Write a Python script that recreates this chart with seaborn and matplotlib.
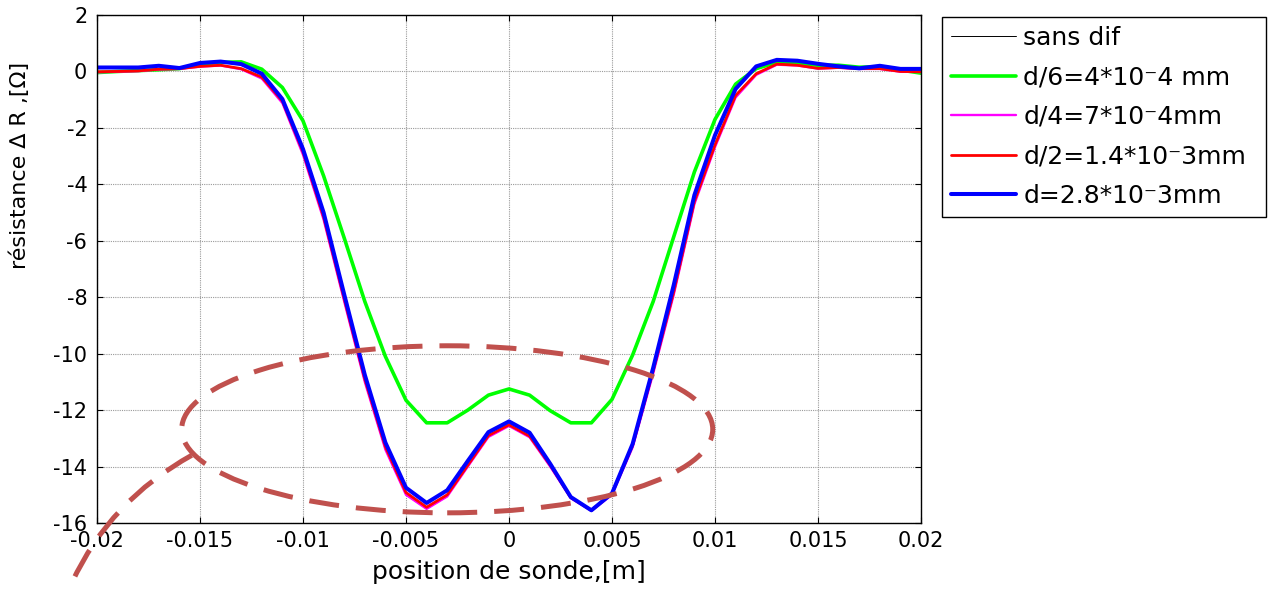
import numpy as np
import pandas as pd
import matplotlib
matplotlib.use("Agg")
import matplotlib.pyplot as plt
from matplotlib.patches import Ellipse, PathPatch
from matplotlib.path import Path
import seaborn as sns

# probe position along the scan [m]
position = [-0.020, -0.019, -0.018, -0.017, -0.016, -0.015, -0.014, -0.013, -0.012, -0.011,
            -0.010, -0.009, -0.008, -0.007, -0.006, -0.005, -0.004, -0.003, -0.002, -0.001,
            0.000,
            0.001, 0.002, 0.003, 0.004, 0.005, 0.006, 0.007, 0.008, 0.009, 0.010,
            0.011, 0.012, 0.013, 0.014, 0.015, 0.016, 0.017, 0.018, 0.019, 0.020]

# resistance variation [Ohm] for each defect depth
d6 = [-0.04, 0.00, 0.03, 0.06, 0.10, 0.25, 0.32, 0.34, 0.08, -0.57,
      -1.75, -3.70, -5.90, -8.15, -10.10, -11.65, -12.45, -12.45, -12.00, -11.47,
      -11.25,
      -11.47, -12.02, -12.45, -12.45, -11.62, -10.05, -8.15, -5.85, -3.56, -1.70,
      -0.45, 0.10, 0.32, 0.28, 0.22, 0.22, 0.15, 0.17, 0.05, -0.06]

d4 = [-0.03, -0.01, 0.01, 0.07, 0.09, 0.17, 0.21, 0.08, -0.25, -1.12,
      -2.95, -5.25, -8.15, -11.00, -13.40, -15.00, -15.50, -15.06, -14.00, -12.95,
      -12.56,
      -12.96, -14.00, -15.12, -15.57, -15.00, -13.32, -10.70, -7.90, -4.70, -2.68,
      -0.92, -0.12, 0.24, 0.21, 0.10, 0.13, 0.09, 0.09, -0.01, -0.02]

d2 = [-0.01, 0.00, 0.02, 0.08, 0.10, 0.18, 0.22, 0.10, -0.20, -1.05,
      -2.85, -5.15, -8.05, -10.90, -13.30, -14.92, -15.44, -15.00, -13.95, -12.90,
      -12.52,
      -12.92, -13.95, -15.10, -15.55, -14.95, -13.25, -10.60, -7.80, -4.60, -2.60,
      -0.85, -0.08, 0.26, 0.22, 0.11, 0.14, 0.10, 0.10, 0.00, -0.01]

d1 = [0.14, 0.14, 0.14, 0.20, 0.12, 0.30, 0.35, 0.26, -0.08, -0.98,
      -2.75, -5.00, -7.90, -10.75, -13.15, -14.75, -15.29, -14.84, -13.80, -12.78,
      -12.40,
      -12.80, -13.90, -15.08, -15.55, -14.95, -13.20, -10.50, -7.56, -4.38, -2.26,
      -0.62, 0.18, 0.41, 0.38, 0.27, 0.18, 0.11, 0.20, 0.09, 0.09]

# defect-free reference follows the shallow-defect curve underneath
sans_dif = d4

series_labels = ["sans dif", "d/6=4*10\u207b4 mm", "d/4=7*10\u207b4mm",
                 "d/2=1.4*10\u207b3mm", "d=2.8*10\u207b3mm"]
series_values = [sans_dif, d6, d4, d2, d1]
series_colors = ["#000000", "#00ff00", "#ff00ff", "#ff0000", "#0000ff"]
series_widths = [0.7, 2.6, 1.7, 2.0, 2.9]

x_ticks = [-0.02, -0.015, -0.01, -0.005, 0.0, 0.005, 0.01, 0.015, 0.02]
x_tick_labels = ["-0.02", "-0.015", "-0.01", "-0.005", "0", "0.005", "0.01", "0.015", "0.02"]
y_ticks = [2, 0, -2, -4, -6, -8, -10, -12, -14, -16]
y_tick_labels = ["2", "0", "-2", "-4", "-6", "-8", "-10", "-12", "-14", "-16"]

sns.set_style("ticks")
plt.rcParams["font.family"] = ["DejaVu Sans"]
plt.rcParams["axes.unicode_minus"] = False
plt.rcParams["text.color"] = "black"
plt.rcParams["axes.labelcolor"] = "black"
plt.rcParams["xtick.color"] = "black"
plt.rcParams["ytick.color"] = "black"

W, H = 1271, 590
fig = plt.figure(figsize=(W / 100, H / 100), dpi=100)
fig.patch.set_facecolor("white")
ax = fig.add_axes([97 / W, 1 - 523 / H, (921 - 97) / W, (523 - 15) / H])
ax.set_facecolor("white")

for lab, vals, col, lw in zip(series_labels, series_values, series_colors, series_widths):
    df = pd.DataFrame({"x": position, "y": vals})
    sns.lineplot(data=df, x="x", y="y", ax=ax, color=col, linewidth=lw,
                 label=lab, sort=False, estimator=None)

ax.set_xlim(-0.02, 0.02)
ax.set_ylim(-16, 2)
ax.set_xticks(x_ticks)
ax.set_xticklabels(x_tick_labels)
ax.set_yticks(y_ticks)
ax.set_yticklabels(y_tick_labels)

ax.grid(True, color="#9a9a9a", linestyle=(0, (1, 1)), linewidth=0.8)
ax.set_axisbelow(True)
for side in ["top", "right", "bottom", "left"]:
    ax.spines[side].set_visible(True)
    ax.spines[side].set_color("black")
    ax.spines[side].set_linewidth(1.0)
ax.tick_params(axis="both", which="both", direction="in", length=4, width=0.8,
               top=True, right=True, labelsize=15, colors="black")
ax.tick_params(axis="y", pad=7)
ax.tick_params(axis="x", pad=6)

ax.set_xlabel("position de sonde,[m]", fontsize=18, color="black")
ax.set_ylabel("résistance \u2206 R ,[\u03a9]", fontsize=16, color="black")
ax.xaxis.set_label_coords(0.5, -0.0965)
ax.yaxis.set_label_coords(-0.0934, 0.703)
ax.xaxis.label.set_va("center")
ax.yaxis.label.set_va("center")

leg = ax.legend(loc="upper left",
                bbox_to_anchor=(942 / W, 1 - 17 / H, 324 / W, 0.0),
                bbox_transform=fig.transFigure, mode="expand",
                borderaxespad=0, fontsize=18, frameon=True, fancybox=False,
                edgecolor="black", framealpha=1, handlelength=2.6,
                handletextpad=0.3, labelspacing=0.62, borderpad=0.35)
leg.get_frame().set_linewidth(1.0)
for t in leg.get_texts():
    t.set_color("black")

# callout highlighting the double-dip region
callout_color = "#c0504d"
dash = (0, (6, 3.4))
ell = Ellipse((-0.0030, -12.68), 0.02578, 5.92, fill=False, edgecolor=callout_color,
              linewidth=3.6, linestyle=dash, clip_on=False, zorder=5)
ax.add_patch(ell)
tail = Path([(-0.01540, -13.60), (-0.01937, -15.2), (-0.02121, -18.1)],
            [Path.MOVETO, Path.CURVE3, Path.CURVE3])
ax.add_patch(PathPatch(tail, fill=False, edgecolor=callout_color, linewidth=3.6,
                       linestyle=dash, clip_on=False, zorder=5))

fig.savefig("out.png", dpi=100, facecolor="white")
